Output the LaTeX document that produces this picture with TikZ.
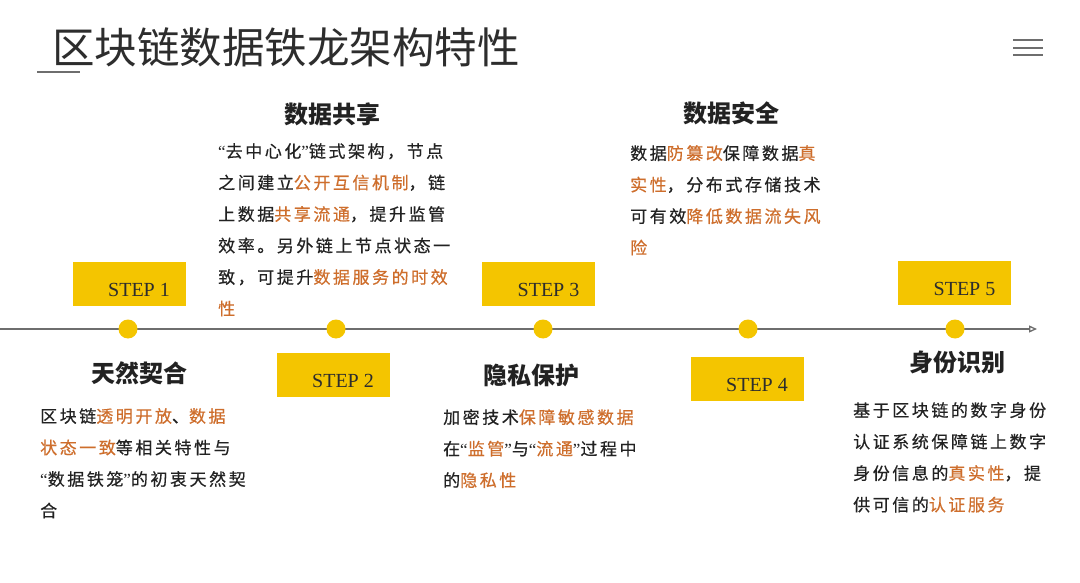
\documentclass[tikz,border=0pt]{standalone}
\usepackage{fontspec}
\setmainfont{Noto Sans CJK SC}
\newfontfamily\stepfont{Liberation Serif}
\newfontfamily\quotefont{Liberation Serif}
\newfontfamily\bodyfont[LetterSpace=15, FakeBold=0.5]{Noto Sans CJK SC}
\usetikzlibrary{arrows.meta}

\definecolor{stepyellow}{RGB}{244,197,0}
\definecolor{hlorange}{RGB}{206,110,44}
\definecolor{inkgray}{RGB}{34,34,34}
\definecolor{titlegray}{RGB}{45,45,45}
\definecolor{linegray}{RGB}{110,110,110}

\newcommand{\hlt}[1]{\textcolor{hlorange}{#1}}
\newcommand{\oquote}{{\quotefont “}}
\newcommand{\cquote}{{\quotefont ”}}

\tikzset{
  stepbox/.style={fill=stepyellow, minimum width=113pt, minimum height=44pt, inner sep=0pt},
  steplabel/.style={text=titlegray, inner sep=0pt, font=\stepfont\fontsize{20}{20}\selectfont},
  dotnode/.style={circle, fill=stepyellow, minimum size=19pt, inner sep=0pt},
  heading/.style={text=inkgray, inner sep=0pt, font=\bfseries\fontsize{24}{24}\selectfont},
  bodytext/.style={text=inkgray, inner sep=0pt, anchor=north west, align=left,
    font=\bodyfont\fontsize{17}{31.5}\selectfont},
  axisline/.style={linegray, line width=1.3pt, -{Triangle[open, length=8pt, width=7pt]}}
}

\begin{document}
\begin{tikzpicture}[x=1pt, y=-1pt]

  \fill[white] (0,0) rectangle (1080,583);
  \useasboundingbox (0,0) rectangle (1080,583);

  % Rows
  \def\liney{329}
  \def\upy{284}
  \def\shift{10}

  % Title
  \node[anchor=west, inner sep=0pt, text=titlegray, font=\fontsize{42.5}{42.5}\selectfont]
    (title) at (52,47) {区块链数据铁龙架构特性};
  \draw[linegray, line width=2pt] (37,72) -- (80,72);

  % Menu icon
  \draw[linegray, line width=2pt] (1013,40) -- (1043,40);
  \draw[linegray, line width=2pt] (1013,47.7) -- (1043,47.7);
  \draw[linegray, line width=2pt] (1013,55.4) -- (1043,55.4);

  % Timeline
  \coordinate (lineStart) at (0,\liney);
  \coordinate (lineEnd) at (1037,\liney);
  \draw[axisline] (lineStart) -- (lineEnd);

  \node[dotnode] (dot1) at (128,\liney) {};
  \node[dotnode] (dot2) at (336,\liney) {};
  \node[dotnode] (dot3) at (543,\liney) {};
  \node[dotnode] (dot4) at (748,\liney) {};
  \node[dotnode] (dot5) at (955,\liney) {};

  % Steps
  \node[stepbox] (step1) at (129,\upy) {};
  \node[steplabel] (step1txt) at (129 + \shift, \upy + 6) {STEP 1};

  \node[stepbox] (step2) at (333,374.5) {};
  \node[steplabel] (step2txt) at (333 + \shift, 380.5) {STEP 2};

  \node[stepbox] (step3) at (538.5,\upy) {};
  \node[steplabel] (step3txt) at (538.5 + \shift, \upy + 6) {STEP 3};

  \node[stepbox] (step4) at (747,379) {};
  \node[steplabel] (step4txt) at (747 + \shift, 385) {STEP 4};

  \node[stepbox] (step5) at (954.5,282.5) {};
  \node[steplabel] (step5txt) at (954.5 + \shift, 288.5) {STEP 5};

  % Step 1: natural fit
  \node[heading] (head1) at (139,373) {天然契合};
  \node[bodytext] (body1) at (40,408) {%
    区块链\hlt{透明开放}、\hlt{数据}\\
    \hlt{状态一致}等相关特性与\\
    \oquote 数据铁笼\cquote 的初衷天然契\\
    合};

  % Step 2: data sharing
  \node[heading] (head2) at (332,114) {数据共享};
  \node[bodytext] (body2) at (218,143) {%
    \oquote 去中心化\cquote 链式架构，节点\\
    之间建立\hlt{公开互信机制}，链\\
    上数据\hlt{共享流通}，提升监管\\
    效率。另外链上节点状态一\\
    致，可提升\hlt{数据服务的时效}\\
    \hlt{性}};

  % Step 3: privacy
  \node[heading] (head3) at (531,375) {隐私保护};
  \node[bodytext] (body3) at (443,409) {%
    加密技术\hlt{保障敏感数据}\\
    在\oquote\hlt{监管}\cquote 与\oquote\hlt{流通}\cquote 过程中\\
    的\hlt{隐私性}};

  % Step 4: data security
  \node[heading] (head4) at (731,113) {数据安全};
  \node[bodytext] (body4) at (630,145) {%
    数据\hlt{防篡改}保障数据\hlt{真}\\
    \hlt{实性}，分布式存储技术\\
    可有效\hlt{降低数据流失风}\\
    \hlt{险}};

  % Step 5: identity
  \node[heading] (head5) at (957,362) {身份识别};
  \node[bodytext] (body5) at (853,402) {%
    基于区块链的数字身份\\
    认证系统保障链上数字\\
    身份信息的\hlt{真实性}，提\\
    供可信的\hlt{认证服务}};

\end{tikzpicture}
\end{document}
